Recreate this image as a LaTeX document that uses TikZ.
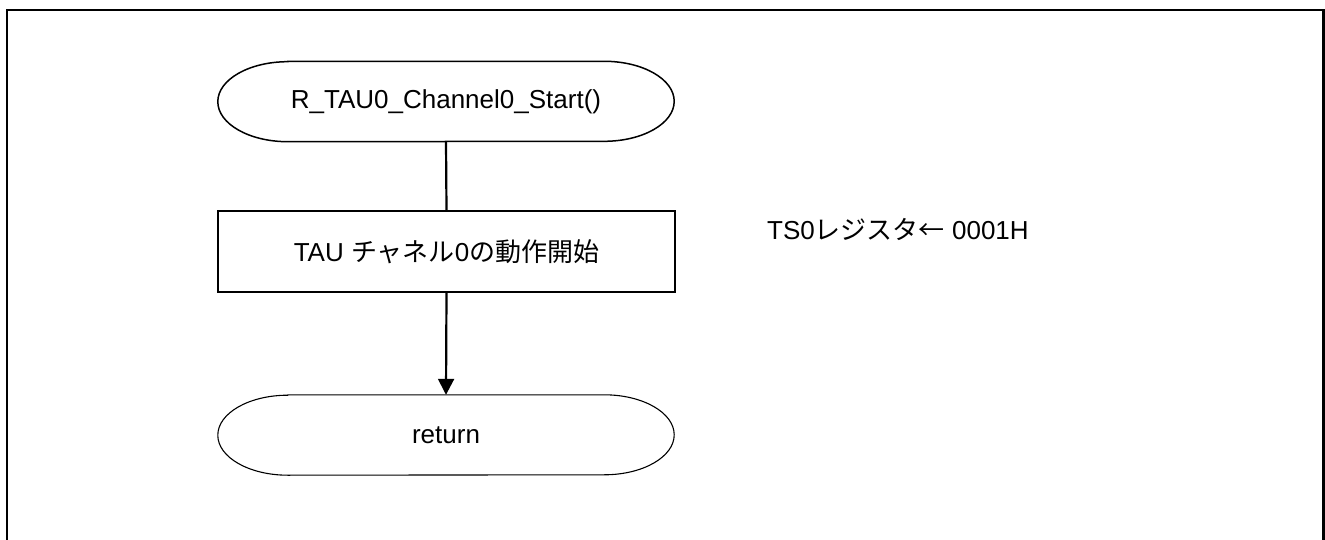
\documentclass[tikz,border=0pt]{standalone}
\usepackage{fontspec}
\setmainfont{Liberation Sans}
\newfontfamily\jp{Noto Sans CJK JP}
\usetikzlibrary{arrows.meta}
\tikzset{
  txt/.style={font=\fontsize{26}{30}\selectfont, inner sep=0pt},
  termnode/.style={txt, minimum width=456pt, minimum height=80pt, draw=none},
  procbox/.style={txt, draw, line width=1.5pt, minimum width=457pt, minimum height=81pt},
  termline/.style={line width=1.5pt},
  flow/.style={line width=2.2pt},
  flowarrow/.style={line width=2.2pt, -{Triangle[width=16pt,length=16pt]}},
  frameline/.style={line width=2.5pt}
}
\begin{document}
\begin{tikzpicture}[x=1pt,y=1pt]
\useasboundingbox (0,0) rectangle (1325,539);
% outer frame (bottom edge beyond the picture)
\draw[frameline] (7,-10) -- (7,529) -- (1323.5,529) -- (1323.5,-10);

\node[termnode] (start) at (446,437.5) {R\_TAU0\_Channel0\_Start()};
\node[procbox] (proc) at (446.5,287.5) {TAU {\jp チャネル}0{\jp の動作開始}};
\node[termnode] (ret) at (446,104) {return};
\node[txt, anchor=base west] (note) at (767,299) {TS0{\jp レジスタ←} 0001H};

% terminal outlines with elliptical ends
\draw[termline] ([xshift=70pt]start.north west) -- ([xshift=-70pt]start.north east)
  arc[start angle=90, end angle=-90, x radius=70pt, y radius=40pt]
  -- ([xshift=70pt]start.south west)
  arc[start angle=270, end angle=90, x radius=70pt, y radius=40pt] -- cycle;
\draw[termline, line width=1.1pt] ([xshift=70pt]ret.north west) -- ([xshift=-70pt]ret.north east)
  arc[start angle=90, end angle=-90, x radius=70pt, y radius=40pt]
  -- ([xshift=70pt]ret.south west)
  arc[start angle=270, end angle=90, x radius=70pt, y radius=40pt] -- cycle;

\draw[flow] (start.south) -- (proc.north);
\draw[flowarrow] (proc.south) -- (ret.north);
\end{tikzpicture}
\end{document}
